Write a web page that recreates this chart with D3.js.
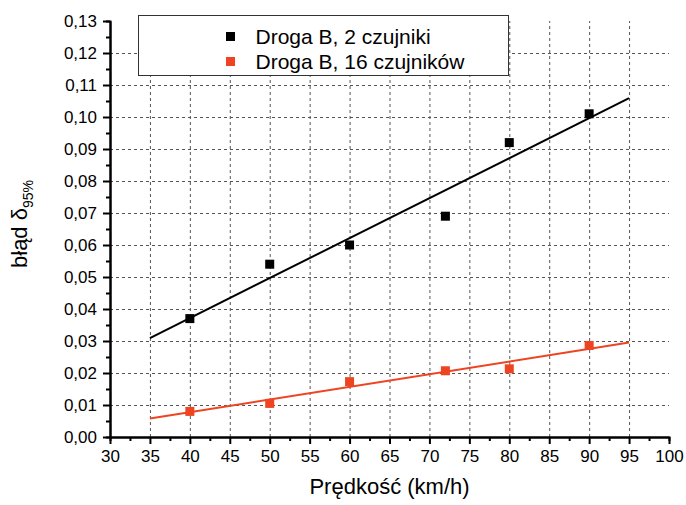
<!DOCTYPE html>
<html>
<head>
<meta charset="utf-8">
<script src="https://cdn.jsdelivr.net/npm/d3@7"></script>
<style>
  body { margin: 0; background: #fff; }
  svg { font-family: "Liberation Sans", Arial, sans-serif; }
  .grid line { stroke: #555; stroke-dasharray: 3,3; stroke-width: 1; }
  .grid .domain { display: none; }
  .axis .domain { stroke: #000; stroke-width: 2; }
  .axis line { stroke: #000; stroke-width: 2; }
  .axis text { font-size: 17px; fill: #000; }
</style>
</head>
<body>
<svg id="chart" width="686" height="505"></svg>
<script>
// ----- DATA -----
var speeds = [40, 50, 60, 72, 80, 90];
var errors2 = [0.037, 0.054, 0.060, 0.069, 0.092, 0.101];
var errors16 = [0.008, 0.0105, 0.0173, 0.0207, 0.0213, 0.0286];
var fitX = [35, 95];
var fit2 = [0.0309, 0.1059];
var fit16 = [0.0058, 0.0295];
var seriesNames = ["Droga B, 2 czujniki", "Droga B, 16 czujników"];
var seriesColors = ["#000000", "#ee4422"];
var xTicks = [30, 35, 40, 45, 50, 55, 60, 65, 70, 75, 80, 85, 90, 95, 100];
var yTicks = [0, 0.01, 0.02, 0.03, 0.04, 0.05, 0.06, 0.07, 0.08, 0.09, 0.10, 0.11, 0.12, 0.13];

var plotLeft = 110, plotRight = 669, plotTop = 21, plotBottom = 437;
var width = plotRight - plotLeft, height = plotBottom - plotTop;

var svg = d3.select("#chart");
var g = svg.append("g").attr("transform", "translate(" + plotLeft + "," + plotTop + ")");

var x = d3.scaleLinear().domain([30, 100]).range([0, width]);
var y = d3.scaleLinear().domain([0, 0.13]).range([height, 0]);

var fmtY = function(d) { return d3.format(".2f")(d).replace(".", ","); };

// ----- GRID -----
g.append("g").attr("class", "grid")
    .attr("transform", "translate(0," + height + ")")
    .call(d3.axisBottom(x).tickValues(xTicks.slice(1, -1)).tickSize(-height).tickFormat(""));
g.append("g").attr("class", "grid")
    .call(d3.axisLeft(y).tickValues(yTicks.slice(1, -1)).tickSize(-width).tickFormat(""));

// ----- AXES -----
var minorX = xTicks.slice(0, -1).map(function(d) { return d + 2.5; });
var minorY = yTicks.slice(0, -1).map(function(d) { return d + 0.005; });

g.append("g").attr("class", "axis")
    .attr("transform", "translate(0," + height + ")")
    .call(d3.axisBottom(x).tickValues(minorX).tickSize(4).tickFormat(""));
g.append("g").attr("class", "axis")
    .call(d3.axisLeft(y).tickValues(minorY).tickSize(4).tickFormat(""));

g.append("g").attr("class", "axis")
    .attr("transform", "translate(0," + height + ")")
    .call(d3.axisBottom(x).tickValues(xTicks).tickSize(7).tickSizeOuter(0).tickPadding(6).tickFormat(d3.format("d")));
g.append("g").attr("class", "axis")
    .call(d3.axisLeft(y).tickValues(yTicks).tickSize(7).tickSizeOuter(0).tickPadding(6).tickFormat(fmtY));

// ----- FIT LINES -----
var line = d3.line().x(function(d) { return x(d[0]); }).y(function(d) { return y(d[1]); });
[fit2, fit16].forEach(function(f, i) {
    g.append("path")
        .datum(d3.zip(fitX, f))
        .attr("d", line)
        .attr("fill", "none")
        .attr("stroke", seriesColors[i])
        .attr("stroke-width", 2);
});

// ----- POINTS -----
var sz = 9;
[errors2, errors16].forEach(function(vals, i) {
    g.selectAll(".pt" + i)
        .data(d3.zip(speeds, vals))
        .enter().append("rect")
        .attr("class", "pt" + i)
        .attr("x", function(d) { return x(d[0]) - sz / 2; })
        .attr("y", function(d) { return y(d[1]) - sz / 2; })
        .attr("width", sz)
        .attr("height", sz)
        .attr("fill", seriesColors[i]);
});

// ----- LEGEND -----
var legend = svg.append("g").attr("transform", "translate(138.5,15.5)");
legend.append("rect")
    .attr("width", 370)
    .attr("height", 60)
    .attr("fill", "#fff")
    .attr("stroke", "#333")
    .attr("stroke-width", 1);
seriesNames.forEach(function(name, i) {
    var cy = 21 + i * 25;
    legend.append("rect")
        .attr("x", 92 - sz / 2)
        .attr("y", cy - sz / 2)
        .attr("width", sz)
        .attr("height", sz)
        .attr("fill", seriesColors[i]);
    legend.append("text")
        .attr("x", 117)
        .attr("y", cy + 7.5)
        .attr("font-size", "21px")
        .text(name);
});

// ----- TITLES -----
svg.append("text")
    .attr("x", (plotLeft + plotRight) / 2)
    .attr("y", 494)
    .attr("text-anchor", "middle")
    .attr("font-size", "22px")
    .text("Prędkość (km/h)");

var yt = svg.append("text")
    .attr("transform", "translate(27," + 224 + ") rotate(-90)")
    .attr("text-anchor", "middle")
    .attr("font-size", "22px");
yt.append("tspan").text("błąd δ");
yt.append("tspan")
    .attr("font-size", "14px")
    .attr("dy", 6)
    .text("95%");
</script>
</body>
</html>
